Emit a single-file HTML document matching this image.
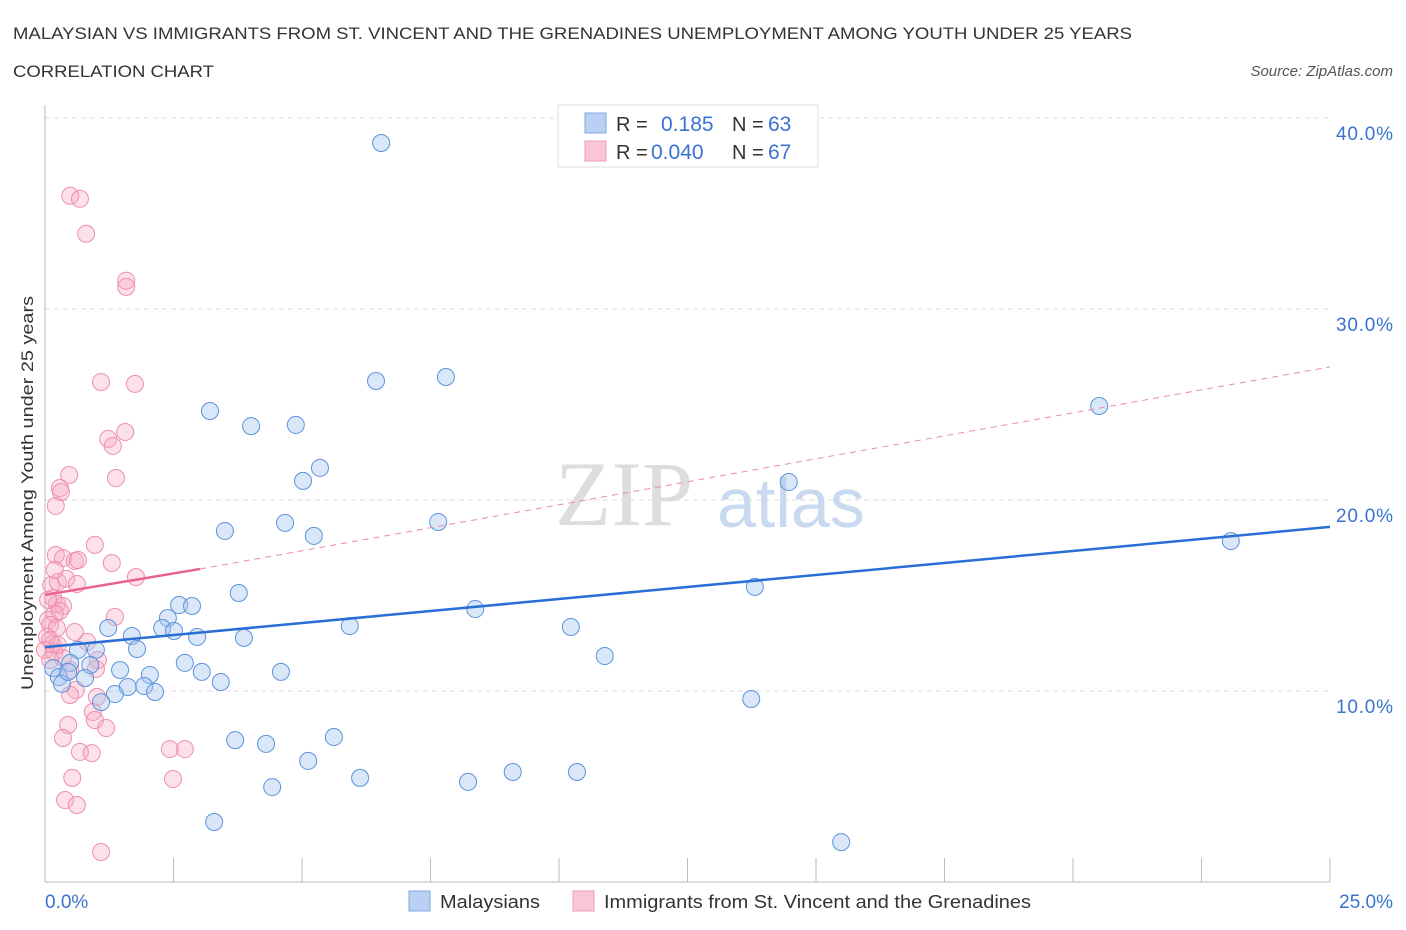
<!DOCTYPE html>
<html><head><meta charset="utf-8"><style>
body{margin:0;background:#fff;font-family:"Liberation Sans",sans-serif;}
svg{display:block}
</style></head><body>
<svg id="chart" width="1406" height="930" xmlns="http://www.w3.org/2000/svg" font-family="Liberation Sans, sans-serif">
<text x="13" y="39" font-size="17" fill="#333" textLength="1119" lengthAdjust="spacingAndGlyphs">MALAYSIAN VS IMMIGRANTS FROM ST. VINCENT AND THE GRENADINES UNEMPLOYMENT AMONG YOUTH UNDER 25 YEARS</text>
<text x="13" y="77" font-size="17" fill="#333" textLength="201" lengthAdjust="spacingAndGlyphs">CORRELATION CHART</text>
<text x="1393" y="76" font-size="15" fill="#555" font-style="italic" text-anchor="end">Source: ZipAtlas.com</text>
<g id="grid"></g>
<g><text x="555" y="525" font-size="92" fill="#ddd" font-family="Liberation Serif, serif">ZIP</text><text x="717" y="527" font-size="70" fill="#c9daf0">atlas</text></g>
<line x1="45" y1="882" x2="1330" y2="882" stroke="#bbb"/>
<line x1="45" y1="105" x2="45" y2="882" stroke="#bbb"/>
<g id="ticks"></g>
<g id="pts"></g>
<g id="trends"></g>
<text transform="translate(33,493) rotate(-90)" font-size="17" fill="#333" text-anchor="middle" textLength="394" lengthAdjust="spacingAndGlyphs">Unemployment Among Youth under 25 years</text>
<text x="45" y="908" font-size="19" fill="#3a72d0">0.0%</text>
<text x="1393" y="908" font-size="19" fill="#3a72d0" text-anchor="end">25.0%</text>
<g>
<rect x="558" y="105" width="260" height="62" fill="#fff" stroke="#ddd"/>
<rect x="585" y="113" width="21" height="20" fill="#b8d1f3" stroke="#7fa7e0"/>
<rect x="585" y="141" width="21" height="20" fill="#f9c6d5" stroke="#ee9bb5"/>
<text x="616" y="131" font-size="20" fill="#333">R =</text><text x="661" y="131" font-size="21" fill="#3a72d0">0.185</text>
<text x="732" y="131" font-size="20" fill="#333">N =</text><text x="768" y="131" font-size="21" fill="#3a72d0">63</text>
<text x="616" y="159" font-size="20" fill="#333">R =</text><text x="651" y="159" font-size="21" fill="#3a72d0">0.040</text>
<text x="732" y="159" font-size="20" fill="#333">N =</text><text x="768" y="159" font-size="21" fill="#3a72d0">67</text>
</g>
<g><rect x="409" y="891" width="21" height="20" fill="#b8d1f3" stroke="#7fa7e0"/><text x="440" y="908" font-size="18" fill="#333" textLength="100" lengthAdjust="spacingAndGlyphs">Malaysians</text></g>
<g><rect x="573" y="891" width="21" height="20" fill="#f9c6d5" stroke="#ee9bb5"/><text x="604" y="908" font-size="18" fill="#333" textLength="427" lengthAdjust="spacingAndGlyphs">Immigrants from St. Vincent and the Grenadines</text></g>
</svg>
<script>
const yTicks=[10,20,30,40];
const blueX=[6.54,6.44,7.80,3.21,4.01,4.88,5.35,5.02,14.47,20.51,23.07,3.50,4.67,5.23,7.65,13.81,3.77,2.61,2.86,2.39,2.28,2.51,1.23,8.37,5.93,10.23,1.69,2.96,3.87,1.79,0.99,0.64,10.89,2.72,1.46,3.05,4.59,2.04,0.16,0.49,0.88,0.27,0.78,3.42,1.61,1.93,2.14,1.36,1.09,0.33,13.74,3.70,4.30,5.62,5.12,6.13,8.23,9.10,10.35,4.42,3.29,15.49,0.45];
const blueY=[38.69,26.23,26.44,24.66,23.87,23.93,21.68,21.0,20.94,24.92,17.85,18.38,18.80,18.12,18.85,15.45,15.13,14.50,14.45,13.82,13.30,13.14,13.30,14.29,13.40,13.35,12.88,12.83,12.78,12.20,12.15,12.15,11.83,11.47,11.10,11.0,11.0,10.84,11.20,11.47,11.36,10.73,10.68,10.47,10.21,10.26,9.95,9.84,9.42,10.37,9.58,7.43,7.23,7.59,6.34,5.45,5.24,5.76,5.76,4.97,3.14,2.09,11.0];
const pinkX=[0.49,0.68,0.80,1.58,1.58,1.09,1.75,1.23,1.32,1.56,1.38,0.47,0.29,0.31,0.21,0.97,0.21,0.35,0.58,0.64,1.30,1.77,0.12,0.25,0.41,0.62,0.16,0.23,0.35,0.29,0.19,0.06,0.10,0.23,0.58,1.36,0.82,0.04,0.14,0.18,0.35,0.10,0.49,0.99,0.60,1.01,0.49,0.93,0.97,1.19,0.45,0.35,0.68,0.91,2.43,2.72,0.53,2.49,0.39,0.62,1.09,0.10,0.06,0.19,1.03,0.25,0.0];
const pinkY=[35.93,35.77,33.94,31.48,31.16,26.18,26.08,23.20,22.83,23.56,21.15,21.31,20.63,20.42,19.69,17.65,17.12,16.96,16.81,16.86,16.70,15.97,15.55,15.71,15.87,15.60,14.87,14.56,14.45,14.19,14.03,13.72,13.46,13.30,13.09,13.88,12.57,12.83,12.46,12.04,11.73,11.62,11.10,11.15,10.05,9.69,9.79,8.90,8.48,8.06,8.22,7.54,6.81,6.75,6.96,6.96,5.45,5.39,4.29,4.03,1.57,12.67,14.77,16.34,11.62,12.41,12.15];
const blueTrend=[0,12.3,25,18.59];
const pinkTrend=[0,15.03,3.02,16.39,25,26.97];
const NS="http://www.w3.org/2000/svg";
const sx=v=>45+v/25*1285, sy=v=>882-v*19.1;
function mk(t,a,p){const e=document.createElementNS(NS,t);for(const k in a)e.setAttribute(k,a[k]);document.getElementById(p).appendChild(e);return e;}
yTicks.forEach(t=>{
 const l=mk('line',{x1:45,x2:1330,y1:sy(t),y2:sy(t),stroke:'#ddd','stroke-dasharray':'5,4'},'grid');
 
 
 const tx=mk('text',{x:1393,y:sy(t)+22,'font-size':19,fill:'#3a72d0','text-anchor':'end',textLength:57},'grid');tx.textContent=t.toFixed(1)+'%';
 
 
});
for(let i=1;i<=10;i++){const x=45+i*128.5;const l=mk('line',{x1:x,x2:x,y1:858,y2:882,stroke:'#bbb'},'ticks');
 
 }
pinkX.forEach((v,i)=>{const c=mk('circle',{cx:sx(v),cy:sy(pinkY[i]),r:8.5,fill:'rgba(246,168,192,0.35)',stroke:'#ee8fae','stroke-width':1},'pts');
 
 });
blueX.forEach((v,i)=>{const c=mk('circle',{cx:sx(v),cy:sy(blueY[i]),r:8.5,fill:'rgba(160,196,238,0.4)',stroke:'#5d93dc','stroke-width':1},'pts');
 
 });
let l=mk('line',{x1:sx(blueTrend[0]),y1:sy(blueTrend[1]),x2:sx(blueTrend[2]),y2:sy(blueTrend[3]),stroke:'#2a6fd6','stroke-width':2.5},'trends');


l=mk('line',{x1:sx(pinkTrend[2]),y1:sy(pinkTrend[3]),x2:sx(pinkTrend[4]),y2:sy(pinkTrend[5]),stroke:'#ec8aa8','stroke-width':1,'stroke-dasharray':'6,5'},'trends');


l=mk('line',{x1:sx(pinkTrend[0]),y1:sy(pinkTrend[1]),x2:sx(pinkTrend[2]),y2:sy(pinkTrend[3]),stroke:'#e8628d','stroke-width':2.5},'trends');


</script>
</body></html>
